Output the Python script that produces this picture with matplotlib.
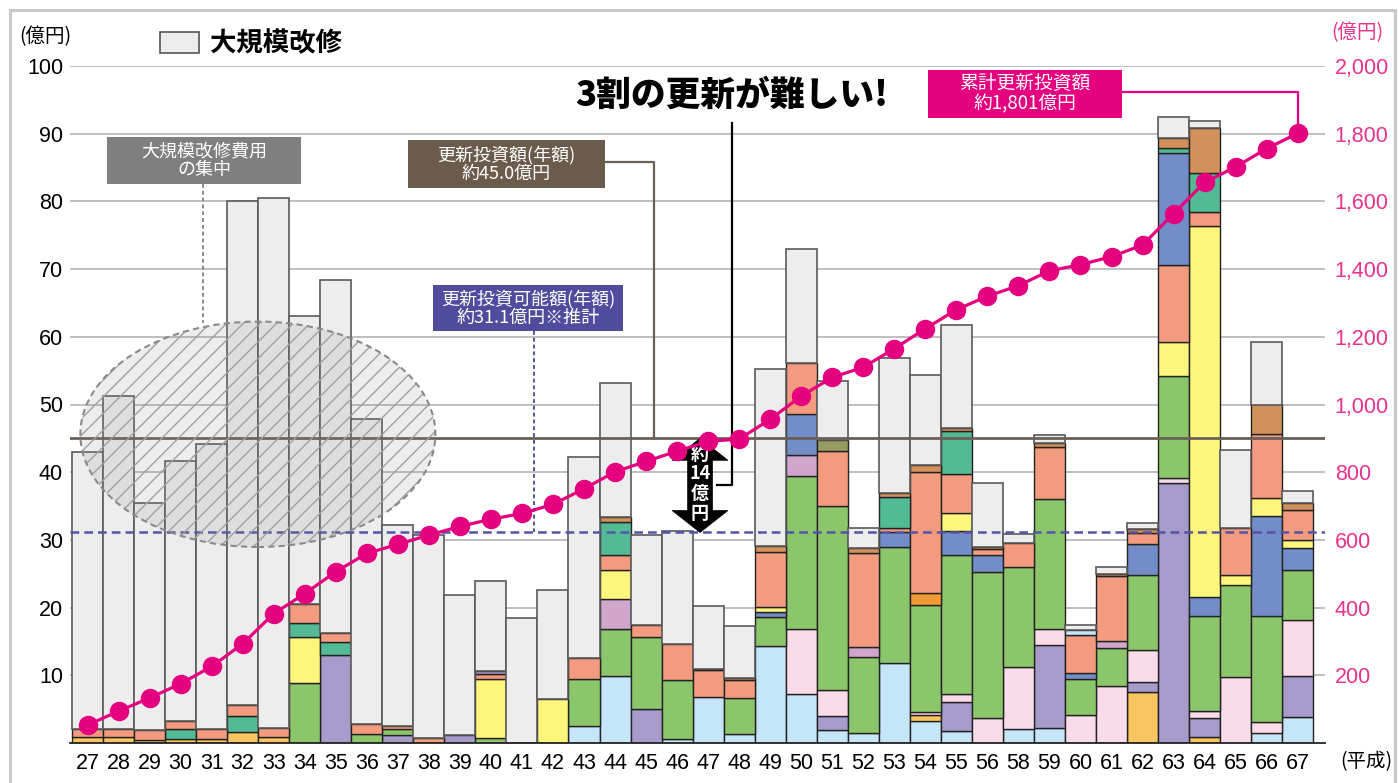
import matplotlib
matplotlib.use("Agg")
import matplotlib.pyplot as plt
import numpy as np
from matplotlib import font_manager
from matplotlib.patches import Ellipse, Rectangle, Polygon

# fonts: narrow latin for numbers, Noto CJK for japanese
names = {f.name for f in font_manager.fontManager.ttflist}
NUM = "Liberation Sans Narrow" if "Liberation Sans Narrow" in names else "Liberation Sans"
JP = "Noto Sans CJK JP"
plt.rcParams["font.family"] = [JP, "DejaVu Sans"]
plt.rcParams["hatch.linewidth"] = 1.0

# 平成 years (57 is not shown in the chart)
years = list(range(27, 57)) + list(range(58, 68))
year_labels = [str(y) for y in years]

# total height of each bar (億円)
totals = [43.0, 51.2, 35.5, 41.7, 44.1, 80.0, 80.5, 63.0, 68.4, 47.8,
          32.2, 30.7, 21.9, 24.0, 18.4, 22.6, 42.2, 53.2, 30.7, 31.3,
          20.2, 17.3, 55.2, 73.0, 53.4, 31.7, 56.9, 54.4, 61.8, 38.4,
          30.8, 45.5, 17.4, 26.0, 32.5, 92.5, 91.9, 43.3, 59.2, 37.2]

# stacked segments, bottom to top
light_blue = [0, 0, 0, 0, 0, 0, 0, 0, 0, 0,
              0, 0, 0, 0, 0, 0, 2.5, 9.9, 0, 0.6,
              6.8, 1.3, 14.35, 7.2, 1.9, 1.43, 11.85, 3.3, 1.8, 0,
              2.0, 2.2, 0, 0, 0, 0, 0, 0, 1.55, 3.9]
gold = [0.9, 0.9, 0.5, 0.6, 0.6, 1.6, 0.9, 0, 0, 0,
        0, 0, 0, 0, 0, 0, 0, 0, 0, 0,
        0, 0, 0, 0, 0, 0, 0, 0.9, 0, 0,
        0, 0, 0, 0, 7.5, 0, 0.9, 0, 0, 0]
purple = [0, 0, 0, 0, 0, 0, 0, 0, 13.0, 0,
          1.2, 0, 1.2, 0, 0, 0, 0, 0, 5.0, 0,
          0, 0, 0, 0, 2.1, 0, 0, 0, 4.2, 0,
          0, 12.25, 0, 0, 1.55, 38.4, 2.8, 0, 0, 6.05]
pink = [0, 0, 0, 0, 0, 0, 0, 0, 0, 0,
        0, 0, 0, 0, 0, 0, 0, 0, 0, 0,
        0, 0, 0, 9.6, 3.9, 0, 0, 0.4, 1.2, 3.7,
        9.25, 2.35, 4.1, 8.4, 4.65, 0.7, 1.0, 9.8, 1.55, 8.15]
green = [0, 0, 0, 0, 0, 0, 0, 8.8, 0, 1.4,
         0.8, 0, 0, 0.8, 0, 0, 6.9, 6.9, 10.6, 8.7,
         0, 5.3, 4.25, 22.6, 27.1, 11.2, 17.05, 15.75, 20.6, 21.5,
         14.75, 19.3, 5.4, 5.7, 11.1, 15.1, 14.0, 13.5, 15.6, 7.5]
mauve = [0, 0, 0, 0, 0, 0, 0, 0, 0, 0,
         0, 0, 0, 0, 0, 0, 0, 4.4, 0, 0,
         0, 0, 0, 3.2, 0, 1.6, 0, 0, 0, 0,
         0, 0, 0, 1.0, 0, 0, 0, 0, 0, 0]
blue = [0, 0, 0, 0, 0, 0, 0, 0, 0, 0,
        0, 0, 0, 0, 0, 0, 0, 0, 0, 0,
        0, 0, 0.7, 6.0, 0, 0, 2.3, 0, 3.5, 2.5,
        0, 0, 0.8, 0, 4.55, 0, 2.8, 0, 14.9, 3.25]
yellow = [0, 0, 0, 0, 0, 0, 0, 6.9, 0, 0,
          0, 0, 0, 8.7, 0, 6.45, 0, 4.4, 0, 0,
          0, 0, 0.8, 0, 0, 0, 0, 0, 2.7, 0,
          0, 0, 0, 0, 0, 5.0, 54.9, 1.45, 2.6, 1.15]
orange = [0, 0, 0, 0, 0, 0, 0, 0, 0, 0,
          0, 0, 0, 0, 0, 0, 0, 0, 0, 0,
          0, 0, 0, 0, 0, 0, 0, 1.85, 0, 0,
          0, 0, 0, 0, 0, 0, 0, 0, 0, 0]
teal_low = [0, 0, 0, 1.4, 0, 2.4, 0, 2.0, 1.85, 0,
            0, 0, 0, 0, 0, 0, 0, 0, 0, 0,
            0, 0, 0, 0, 0, 0, 0, 0, 0, 0,
            0, 0, 0, 0, 0, 0, 0, 0, 0, 0]
salmon = [1.1, 1.1, 1.4, 1.3, 1.4, 1.6, 1.35, 2.85, 1.4, 1.4,
          0.5, 0.7, 0, 0.7, 0, 0, 3.2, 2.2, 1.9, 5.3,
          4.0, 2.7, 8.1, 7.6, 8.2, 13.9, 0.55, 17.9, 5.7, 1.0,
          3.6, 7.6, 5.6, 9.5, 1.65, 11.4, 2.0, 6.95, 9.4, 4.4]
purple_top = [0] * 13 + [0.4] + [0] * 26
light_blue_top = [0] * 32 + [0.8] + [0] * 7
blue_top = [0] * 35 + [16.6] + [0] * 4
olive = [0] * 24 + [1.6] + [0] * 15
teal = [0, 0, 0, 0, 0, 0, 0, 0, 0, 0,
        0, 0, 0, 0, 0, 0, 0, 4.8, 0, 0,
        0, 0, 0, 0, 0, 0, 4.55, 0, 6.4, 0,
        0, 0, 0, 0, 0, 0.7, 5.8, 0, 0, 0]
tan = [0, 0, 0, 0, 0, 0, 0, 0, 0, 0,
       0, 0, 0, 0, 0, 0, 0, 0.8, 0, 0,
       0.2, 0.3, 0.9, 0, 0, 0.7, 0.6, 0.9, 0.4, 0.3,
       0, 0.65, 0, 0.3, 0.65, 1.5, 6.7, 0, 4.4, 1.1]

# cumulative renewal investment (right axis, 億円)
cumulative = [53, 94, 133, 175, 226, 293, 382, 441, 506, 560,
              587, 614, 640, 661, 678, 705, 751, 801, 832, 862,
              891, 898, 956, 1025, 1080, 1110, 1165, 1224, 1280, 1320,
              1351, 1395, 1413, 1437, 1471, 1564, 1656, 1702, 1756, 1801]

renewal_annual = 45.0
possible_annual = 31.1

layers = [
    (light_blue, "#c5e6f8"), (gold, "#f9c560"), (purple, "#a69bcb"),
    (pink, "#fadbea"), (green, "#8cc66b"), (mauve, "#d0a6cd"),
    (blue, "#728dc7"), (yellow, "#fef57c"), (orange, "#f29a35"),
    (teal_low, "#52bb95"), (salmon, "#f29b7e"), (purple_top, "#a69bcb"),
    (light_blue_top, "#c5e6f8"), (blue_top, "#728dc7"), (olive, "#989b60"),
    (teal, "#52bb95"), (tan, "#d2905a"),
]

PINK = "#e4007f"
fig = plt.figure(figsize=(13.98, 7.83), dpi=100)
ax = fig.add_axes([70 / 1398, 40 / 783, 1255 / 1398, 677 / 783])

x = np.arange(len(years))
bottom = np.zeros(len(years))
for vals, color in layers:
    v = np.array(vals, dtype=float)
    m = v > 0
    ax.bar(x[m], v[m], width=1.0, bottom=bottom[m], color=color,
           edgecolor="#222222", linewidth=1.0, zorder=3)
    bottom += v
grey = np.array(totals) - bottom
ax.bar(x, grey, width=1.0, bottom=bottom, color="#ededed",
       edgecolor="#5a5a5a", linewidth=1.2, zorder=3)

ax.set_xlim(-0.564, 39.88)
ax.set_ylim(0, 100)
ax.set_yticks(range(10, 101, 10))
ax.set_yticklabels([str(v) for v in range(10, 101, 10)], fontsize=15.5, family=NUM)
ax.set_xticks(x)
ax.set_xticklabels(year_labels, fontsize=15.5, family=NUM)
ax.tick_params(axis="y", length=0, pad=5)
ax.tick_params(axis="x", length=0, pad=7)
ax.yaxis.grid(True, color="#b4b4b4", lw=1.2, zorder=0)
ax.set_axisbelow(True)
for s in ["top", "left", "right"]:
    ax.spines[s].set_visible(False)
ax.spines["bottom"].set_color("#222222")
ax.spines["bottom"].set_linewidth(1.3)
ax.spines["bottom"].set_zorder(6)

# reference lines
ax.axhline(renewal_annual, color="#6b6056", lw=2.0, zorder=4)
ax.axhline(possible_annual, color="#5553a6", lw=1.8, ls=(0, (3.5, 2)), zorder=4)

# hatched ellipse over the big-repair years
ax.add_patch(Ellipse((5.49, 45.6), 11.44, 33.3, facecolor=(0.55, 0.55, 0.55, 0.15),
                     edgecolor="#a0a0a0", hatch="//", linewidth=0, zorder=5))
ax.add_patch(Ellipse((5.49, 45.6), 11.44, 33.3, fill=False, edgecolor="#8a8a8a",
                     linewidth=1.5, linestyle=(0, (3, 2)), zorder=5))


def label_box(xc, yc, w, h, fc, text, fs=13):
    ax.add_patch(Rectangle((xc - w / 2, yc - h / 2), w, h, fc=fc, ec="none",
                           zorder=7, clip_on=False))
    ax.text(xc, yc, text, color="white", fontsize=fs, ha="center", va="center",
            linespacing=1.0, zorder=8)


label_box(3.76, 86.0, 6.25, 6.93, "#7f7f7f", "大規模改修費用\nの集中")
label_box(13.49, 85.5, 6.35, 7.08, "#6b5b4c", "更新投資額(年額)\n約45.0億円")
label_box(14.2, 64.2, 6.1, 6.78, "#4f4b9d", "更新投資可能額(年額)\n約31.1億円※推計")
label_box(30.21, 95.9, 6.25, 7.08, PINK, "累計更新投資額\n約1,801億円", fs=13.5)

# connectors
ax.plot([3.72, 3.72], [82.5, 62.1], color="#8a8a8a", lw=1.4, ls=(0, (2, 1.5)), zorder=6)
ax.plot([16.66, 18.26, 18.26], [85.8, 85.8, renewal_annual], color="#6b6056", lw=1.6, zorder=6)
ax.plot([14.39, 14.39], [60.8, possible_annual], color="#5553a6", lw=1.4, ls=(0, (2, 1.5)), zorder=6)
ax.plot([33.34, x[-1], x[-1]], [96.2, 96.2, cumulative[-1] / 20], color=PINK, lw=1.6, zorder=6)

# headline
ax.text(20.77, 95.7, "3割の更新が難しい!", fontsize=25, fontweight="heavy",
        ha="center", va="center", zorder=8)
ax.plot([20.76, 20.76, 20.28], [91.6, 38.05, 38.05], color="black", lw=1.6, zorder=6)

# double arrow "約14億円"
xc, top, bot = 19.74, renewal_annual, possible_annual
hw, sw, hl = 0.9, 0.4, 3.24
pts = [(xc, top), (xc + hw, top - hl), (xc + sw, top - hl), (xc + sw, bot + hl),
       (xc + hw, bot + hl), (xc, bot), (xc - hw, bot + hl), (xc - sw, bot + hl),
       (xc - sw, top - hl), (xc - hw, top - hl)]
ax.add_patch(Polygon(pts, closed=True, fc="black", ec="black", lw=0.5, zorder=7))
ax.text(xc, 38.3, "約\n14\n億\n円", color="white", fontsize=13, fontweight="bold",
        ha="center", va="center", linespacing=1.05, zorder=8)

# cumulative line on the right axis
ax2 = ax.twinx()
ax2.plot(x, cumulative, color=PINK, lw=2.3, marker="o", ms=13, zorder=5)
ax2.set_ylim(0, 2000)
ax2.set_yticks(range(200, 2001, 200))
ax2.set_yticklabels([f"{v:,}" for v in range(200, 2001, 200)], fontsize=15.5,
                    family=NUM, color="#e8338c")
ax2.tick_params(axis="y", length=0, pad=7)
for s in ax2.spines.values():
    s.set_visible(False)

# figure texts
fig.text(45 / 1398, 1 - 37 / 783, "(億円)", fontsize=14, ha="center", va="center")
fig.text(1357 / 1398, 1 - 33 / 783, "(億円)", fontsize=14, ha="center", va="center",
         color="#e8338c")
fig.add_artist(Rectangle((160 / 1398, 1 - 53 / 783), 39 / 1398, 21 / 783,
                         transform=fig.transFigure, fc="#ededed", ec="#555555", lw=1.2))
fig.text(210 / 1398, 1 - 44 / 783, "大規模改修", fontsize=19, fontweight="bold",
         ha="left", va="center")
fig.text(1366 / 1398, 1 - 762 / 783, "(平成)", fontsize=14, ha="center", va="center")
fig.add_artist(Rectangle((10 / 1398, -0.05), 1385 / 1398, 773 / 783 + 0.05,
                         transform=fig.transFigure, fill=False, ec="#c8c8c8", lw=2.2))

fig.savefig("out.png", dpi=100)
